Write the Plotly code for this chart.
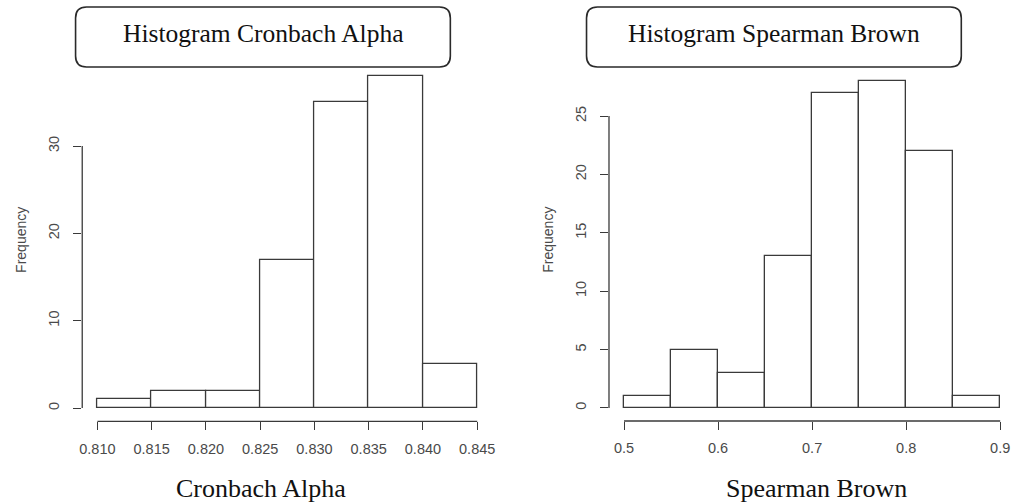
import plotly.graph_objects as go

W, H = 1014, 503

# ---- data ----
ca_edges = [0.810, 0.815, 0.820, 0.825, 0.830, 0.835, 0.840, 0.845]
ca_counts = [1, 2, 2, 17, 35, 38, 5]
ca_xticks = [0.810, 0.815, 0.820, 0.825, 0.830, 0.835, 0.840, 0.845]
ca_xticklabels = ["0.810", "0.815", "0.820", "0.825", "0.830", "0.835", "0.840", "0.845"]
ca_yticks = [0, 10, 20, 30]

sb_edges = [0.50, 0.55, 0.60, 0.65, 0.70, 0.75, 0.80, 0.85, 0.90]
sb_counts = [1, 5, 3, 13, 27, 28, 22, 1]
sb_xticks = [0.5, 0.6, 0.7, 0.8, 0.9]
sb_xticklabels = ["0.5", "0.6", "0.7", "0.8", "0.9"]
sb_yticks = [0, 5, 10, 15, 20, 25]

titles = ["Histogram Cronbach Alpha", "Histogram Spearman Brown"]
xlabels = ["Cronbach Alpha", "Spearman Brown"]

LINE = "#3a3a3a"
TXT = "#4a4a4a"
SERIF = "Liberation Serif, Times New Roman, serif"
SANS = "Liberation Sans, Arial, sans-serif"


def px_x(p):
    return p / W


def px_y(p):
    return 1 - p / H


fig = go.Figure()


def add_hist(edges, counts, xa, ya):
    centers = [(a + b) / 2 for a, b in zip(edges[:-1], edges[1:])]
    widths = [b - a for a, b in zip(edges[:-1], edges[1:])]
    fig.add_trace(go.Bar(x=centers, y=counts, width=widths, xaxis=xa, yaxis=ya,
                         marker=dict(color="white", line=dict(color=LINE, width=1.3)),
                         showlegend=False, hoverinfo="x+y"))


add_hist(ca_edges, ca_counts, "x", "y")
add_hist(sb_edges, sb_counts, "x2", "y2")

axis_common = dict(showgrid=False, zeroline=False, showline=False, ticks="outside",
                   ticklen=8, tickwidth=1.2, tickcolor=LINE,
                   tickfont=dict(family=SANS, size=14.5, color=TXT))

# panel pixel geometry
L_x0, L_x1 = 79.7, 492.3
L_yb, L_yt = 421.3, 63
R_x0, R_x1 = 609.6, 1014
R_yb, R_yt = 421.0, 68

fig.update_layout(
    width=W, height=H, margin=dict(l=0, r=0, t=0, b=0),
    paper_bgcolor="white", plot_bgcolor="white", bargap=0,
    xaxis=dict(domain=[px_x(L_x0), px_x(L_x1)], range=[0.8086, 0.8464], anchor="y",
               tickvals=ca_xticks, ticktext=ca_xticklabels, ticklabelstandoff=6, **axis_common),
    yaxis=dict(domain=[px_y(L_yb), px_y(L_yt)], range=[-1.52, 39.52], anchor="x",
               tickvals=ca_yticks, tickangle=-90, ticklabelstandoff=8, **axis_common),
    xaxis2=dict(domain=[px_x(R_x0), px_x(R_x1)], range=[0.484, 0.9115], anchor="y2",
                tickvals=sb_xticks, ticktext=sb_xticklabels, ticklabelstandoff=6, **axis_common),
    yaxis2=dict(domain=[px_y(R_yb), px_y(R_yt)], range=[-1.12, 29.12], anchor="x2",
                tickvals=sb_yticks, tickangle=-90, ticklabelstandoff=8, **axis_common),
)

# axis lines spanning first to last tick (R style)
for xa, ya, xt, yt in [("x", "y", ca_xticks, ca_yticks), ("x2", "y2", sb_xticks, sb_yticks)]:
    fig.add_shape(type="line", xref=xa, yref=ya + " domain", x0=xt[0], x1=xt[-1], y0=0, y1=0,
                  line=dict(color=LINE, width=1.3))
    fig.add_shape(type="line", xref=xa + " domain", yref=ya, x0=0, x1=0, y0=yt[0], y1=yt[-1],
                  line=dict(color=LINE, width=1.3))


def rounded_box(x0, y0, x1, y1, r):
    X0, X1 = px_x(x0), px_x(x1)
    Y0, Y1 = px_y(y1), px_y(y0)  # bottom, top in paper
    rx, ry = r / W, r / H
    return (f"M {X0+rx},{Y1} L {X1-rx},{Y1} Q {X1},{Y1} {X1},{Y1-ry} "
            f"L {X1},{Y0+ry} Q {X1},{Y0} {X1-rx},{Y0} "
            f"L {X0+rx},{Y0} Q {X0},{Y0} {X0},{Y0+ry} "
            f"L {X0},{Y1-ry} Q {X0},{Y1} {X0+rx},{Y1} Z")


boxes = [(73, 7, 450, 67), (587, 7, 964, 67)]
for (bx0, by0, bx1, by1), t in zip(boxes, titles):
    fig.add_shape(type="path", xref="paper", yref="paper", path=rounded_box(bx0, by0, bx1, by1, 11),
                  line=dict(color="#2a2a2a", width=1.6), fillcolor="rgba(0,0,0,0)")
    fig.add_annotation(x=px_x((bx0 + bx1) / 2), y=px_y(34), xref="paper", yref="paper",
                       text=t, showarrow=False, font=dict(family=SERIF, size=25.5, color="#111"),
                       xanchor="center", yanchor="middle")

# x-axis titles
for cx, t in [(260, xlabels[0]), (818, xlabels[1])]:
    fig.add_annotation(x=px_x(cx), y=px_y(488), xref="paper", yref="paper", text=t, showarrow=False,
                       font=dict(family=SERIF, size=26, color="#111"), xanchor="center", yanchor="middle")

# y-axis titles
for cx, cy in [(18, 240), (548, 240)]:
    fig.add_annotation(x=px_x(cx), y=px_y(cy), xref="paper", yref="paper", text="Frequency",
                       showarrow=False, textangle=-90, font=dict(family=SANS, size=14, color=TXT),
                       xanchor="center", yanchor="middle")

fig.write_html("out.html", config={"displayModeBar": False},
               post_script="document.body.style.margin='0px';document.body.style.overflow='hidden';")
